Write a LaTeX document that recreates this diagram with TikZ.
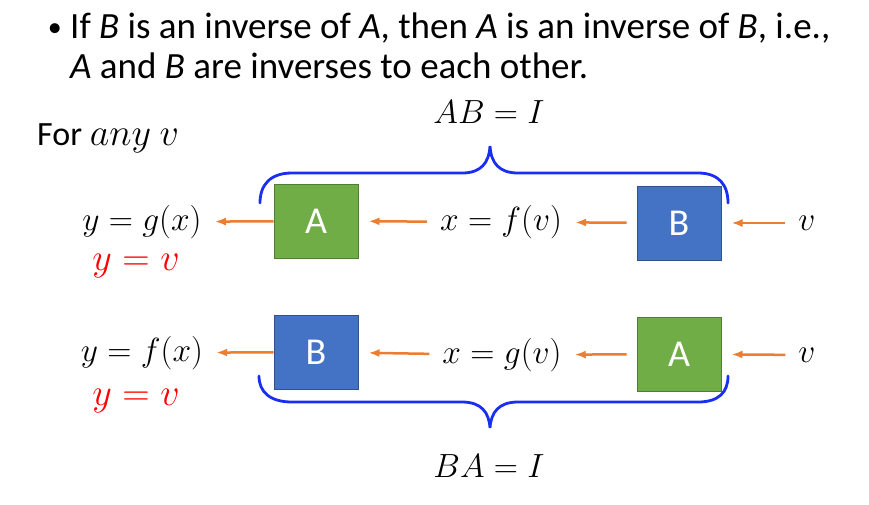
\documentclass[tikz,border=0pt]{standalone}
\usepackage{fix-cm}
\usepackage{fontspec}
\setmainfont{Carlito}
\usetikzlibrary{positioning,arrows.meta}
\definecolor{boxgreen}{HTML}{70AD47}
\definecolor{boxgreenline}{HTML}{507E32}
\definecolor{boxblue}{HTML}{4472C4}
\definecolor{boxblueline}{HTML}{2F528F}
\definecolor{flowline}{HTML}{ED7D31}
\definecolor{braceline}{HTML}{1A2EF0}
\begin{document}
\begin{tikzpicture}
			[x=1pt,y=-1pt,
			every node/.style={font=\fontsize{33.5}{40}\selectfont},
			mathtext/.style={inner sep=3pt},
			redtext/.style={inner sep=3pt,text=red,font=\fontsize{38}{44}\selectfont},
			greenbox/.style={draw=boxgreenline,fill=boxgreen,line width=1pt,minimum width=84pt,minimum height=74pt,text=white,font=\fontsize{38}{44}\selectfont},
			bluebox/.style={draw=boxblueline,fill=boxblue,line width=1pt,minimum width=84pt,minimum height=74pt,text=white,font=\fontsize{38}{44}\selectfont},
			flow/.style={-{Latex[length=11pt,width=8pt]},draw,color=flowline,line width=2.5pt,shorten <=10pt,shorten >=10pt},
			bracepath/.style={draw=braceline,line width=2.8pt,line cap=round}]
			\useasboundingbox (0,0) rectangle (869,504);
			\node[anchor=base west,inner sep=0,font=\fontsize{37}{44}\selectfont] (line1) at (70,38) {If \textit{B} is an inverse of \textit{A}, then \textit{A} is an inverse of \textit{B}, i.e.,};
			\node[anchor=base east,inner sep=0,font=\fontsize{28}{34}\selectfont] (dot) at (62,36) {•};
			\node[anchor=base west,inner sep=0,font=\fontsize{37}{44}\selectfont] (line2) at (70,78) {\textit{A} and \textit{B} are inverses to each other.};
			\node[anchor=base west,inner sep=0,font=\fontsize{34}{40}\selectfont] (forany) at (37,145) {For {\fontsize{38}{44}\selectfont$any\ v$}};
			\node[anchor=base,inner sep=0] (AB) at (489,123) {$AB=I$};
			\node[anchor=base,inner sep=0] (BA) at (489,477) {$BA=I$};
			% top row
			\node[greenbox] (A1) at (316,221) {A};
			\node[bluebox] (B1) at (679,223) {B};
			\node[mathtext] (y1) at (142,222) {$y=g(x)$};
			\node[redtext,anchor=base] (r1) at (136,270) {$y=v$};
			\node[mathtext] (x1) at (501,222) {$x=f(v)$};
			\node[mathtext] (v1) at (807,223) {$v$};
			% bottom row
			\node[bluebox] (B2) at (316,352) {B};
			\node[greenbox] (A2) at (679,354) {A};
			\node[mathtext] (y2) at (142,353) {$y=f(x)$};
			\node[redtext,anchor=base] (r2) at (136,405) {$y=v$};
			\node[mathtext] (x2) at (502,355) {$x=g(v)$};
			\node[mathtext] (v2) at (807,355) {$v$};
			\path[flow]
			(A1) edge[shorten <=0pt] (y1)
			(x1) edge (A1)
			(B1) edge (x1)
			(v1) edge (B1)
			(B2) edge[shorten <=0pt] (y2)
			(x2) edge (B2)
			(A2) edge (x2)
			(v2) edge (A2);
			% braces
			\path[bracepath] (260,203) .. controls (260,185) and (270,173) .. (292,173) -- (462,173)
			.. controls (481,173) and (489,163) .. (490,146)
			.. controls (491,163) and (499,173) .. (518,173) -- (698,173)
			.. controls (719,173) and (728,185) .. (728,203);
			\path[bracepath] (259,376) .. controls (259,392) and (270,402) .. (292,402) -- (462,402)
			.. controls (481,402) and (489,412) .. (490,428)
			.. controls (491,412) and (499,402) .. (518,402) -- (698,402)
			.. controls (719,402) and (728,392) .. (728,376);
		\end{tikzpicture}
\end{document}
